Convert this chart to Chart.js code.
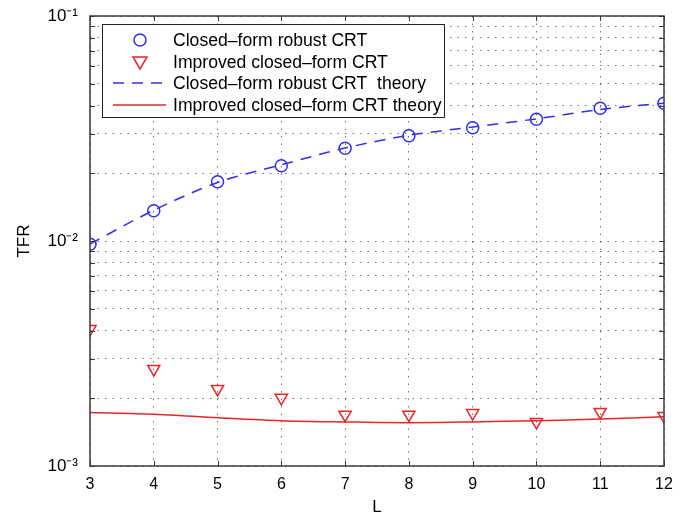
<!DOCTYPE html>
<html>
<head>
<meta charset="utf-8">
<script src="https://cdn.jsdelivr.net/npm/chart.js@4/dist/chart.umd.min.js"></script>
<style>
  html, body { margin: 0; padding: 0; background: #fff; }
  #wrap { width: 695px; height: 518px; }
</style>
</head>
<body>
<div id="wrap"><canvas id="tfr-chart" width="695" height="518"></canvas></div>
<script>
var L = [3, 4, 5, 6, 7, 8, 9, 10, 11, 12];
var robustSim = [0.00967, 0.01364, 0.01835, 0.02161, 0.02582, 0.02938, 0.03188, 0.03474, 0.03889, 0.04093];
var improvedSim = [0.00406, 0.0027, 0.0022, 0.00201, 0.00169, 0.00169, 0.00172, 0.00157, 0.00174, 0.00167];
var robustTheory = [0.0097, 0.0137, 0.0182, 0.0218, 0.0259, 0.0295, 0.0321, 0.0349, 0.0384, 0.0410];
var improvedTheory = [0.00173, 0.0017, 0.00164, 0.00159, 0.00157, 0.001557, 0.00157, 0.00159, 0.001618, 0.001656];
var yTicks = [0.001, 0.002, 0.003, 0.004, 0.005, 0.006, 0.007, 0.008, 0.009,
              0.01, 0.02, 0.03, 0.04, 0.05, 0.06, 0.07, 0.08, 0.09, 0.1];
var yTickLabels = { "0.001": "10\u207B\u00B3", "0.01": "10\u207B\u00B2", "0.1": "10\u207B\u00B9" };

var FONT = "'Liberation Sans', Arial, sans-serif";
var BLUE = "#2f2ff0";
var RED = "#e8262a";

function pts(arr) {
  return L.map(function (x, i) { return { x: x, y: arr[i] }; });
}

// box around the axes, inward ticks and the legend, drawn like the MATLAB figure
var frame = {
  id: "frame",
  afterDraw: function (chart) {
    var ctx = chart.ctx, a = chart.chartArea;
    var xs = chart.scales.x, ys = chart.scales.y;
    ctx.save();
    ctx.strokeStyle = "#3a3a3a";
    ctx.lineWidth = 1;
    ctx.beginPath();
    xs.ticks.forEach(function (t) {
      var px = Math.round(xs.getPixelForValue(t.value)) + 0.5;
      ctx.moveTo(px, a.bottom); ctx.lineTo(px, a.bottom - 5);
      ctx.moveTo(px, a.top); ctx.lineTo(px, a.top + 5);
    });
    ys.ticks.forEach(function (t) {
      var py = Math.round(ys.getPixelForValue(t.value)) + 0.5;
      ctx.moveTo(a.left, py); ctx.lineTo(a.left + 5, py);
      ctx.moveTo(a.right, py); ctx.lineTo(a.right - 5, py);
    });
    ctx.stroke();
    ctx.lineWidth = 1.5;
    ctx.strokeRect(a.left, a.top, a.right - a.left, a.bottom - a.top);

    // legend
    var bx = 102, by = 24, bw = 342, bh = 93;
    ctx.fillStyle = "#fff";
    ctx.fillRect(bx, by, bw, bh);
    ctx.lineWidth = 1;
    ctx.strokeStyle = "#222";
    ctx.strokeRect(bx + 0.5, by + 0.5, bw, bh);
    ctx.font = "17.6px " + FONT;
    ctx.textBaseline = "middle";
    ctx.textAlign = "left";
    var rows = [40, 62, 83, 105];
    chart.data.datasets.forEach(function (ds, i) {
      var y = rows[i];
      ctx.lineWidth = 1.5;
      if (ds.showLine === false) {
        ctx.strokeStyle = ds.pointBorderColor;
        ctx.beginPath();
        if (ds.pointStyle === "circle") {
          ctx.arc(140, y, 6, 0, Math.PI * 2);
        } else {
          ctx.moveTo(133, y - 5); ctx.lineTo(147, y - 5); ctx.lineTo(140, y + 7); ctx.closePath();
        }
        ctx.stroke();
      } else {
        ctx.strokeStyle = ds.borderColor;
        ctx.setLineDash(ds.borderDash || []);
        ctx.beginPath();
        ctx.moveTo(113, y); ctx.lineTo(166, y);
        ctx.stroke();
        ctx.setLineDash([]);
      }
      ctx.fillStyle = "#000";
      ctx.fillText(ds.label, 173, y + 1);
    });
    ctx.restore();
  }
};

new Chart(document.getElementById("tfr-chart"), {
  type: "scatter",
  data: {
    datasets: [{
      label: "Closed\u2013form robust CRT",
      data: pts(robustSim),
      showLine: false,
      pointStyle: "circle",
      pointRadius: 6,
      pointBorderWidth: 1.5,
      pointBorderColor: BLUE,
      pointBackgroundColor: "rgba(0,0,0,0)",
      order: 1
    }, {
      label: "Improved closed\u2013form CRT",
      data: pts(improvedSim),
      showLine: false,
      pointStyle: "triangle",
      pointRotation: 180,
      pointRadius: 7,
      pointBorderWidth: 1.5,
      pointBorderColor: RED,
      pointBackgroundColor: "rgba(0,0,0,0)",
      order: 2
    }, {
      label: "Closed\u2013form robust CRT  theory",
      data: pts(robustTheory),
      showLine: true,
      borderColor: BLUE,
      borderWidth: 1.5,
      borderDash: [11, 8],
      pointRadius: 0,
      tension: 0.3,
      order: 3
    }, {
      label: "Improved closed\u2013form CRT theory",
      data: pts(improvedTheory),
      showLine: true,
      borderColor: RED,
      borderWidth: 1.5,
      pointRadius: 0,
      tension: 0.3,
      order: 4
    }]
  },
  options: {
    responsive: false,
    animation: false,
    layout: { padding: { left: 10, right: 31, top: 16, bottom: 0 } },
    plugins: {
      legend: { display: false },
      tooltip: { enabled: false }
    },
    scales: {
      x: {
        type: "linear",
        min: 3,
        max: 12,
        afterFit: function (s) { s.height = 52; },
        ticks: { stepSize: 1, color: "#000", padding: 9, font: { family: FONT, size: 16 } },
        grid: { color: "rgba(0,0,0,0.55)", lineWidth: 1, drawTicks: false },
        border: { display: false, dash: [1.5, 6] },
        title: { display: true, text: "L", color: "#000", font: { family: FONT, size: 17 }, padding: { top: 0, bottom: 0 } }
      },
      y: {
        type: "logarithmic",
        min: 0.001,
        max: 0.1,
        afterFit: function (s) { s.width = 80; s.paddingTop = 0; s.paddingBottom = 0; },
        afterBuildTicks: function (s) {
          s.ticks = yTicks.map(function (v) { return { value: v }; });
        },
        ticks: {
          color: "#000",
          padding: 12,
          autoSkip: false,
          font: { family: FONT, size: 17 },
          callback: function (v) { return yTickLabels[String(v)] || ""; }
        },
        grid: { color: "rgba(0,0,0,0.55)", lineWidth: 1, drawTicks: false },
        border: { display: false, dash: [1.5, 6] },
        title: { display: true, text: "TFR", color: "#000", font: { family: FONT, size: 17 }, padding: { top: 4, bottom: 4 } }
      }
    }
  },
  plugins: [frame]
});
</script>
</body>
</html>
